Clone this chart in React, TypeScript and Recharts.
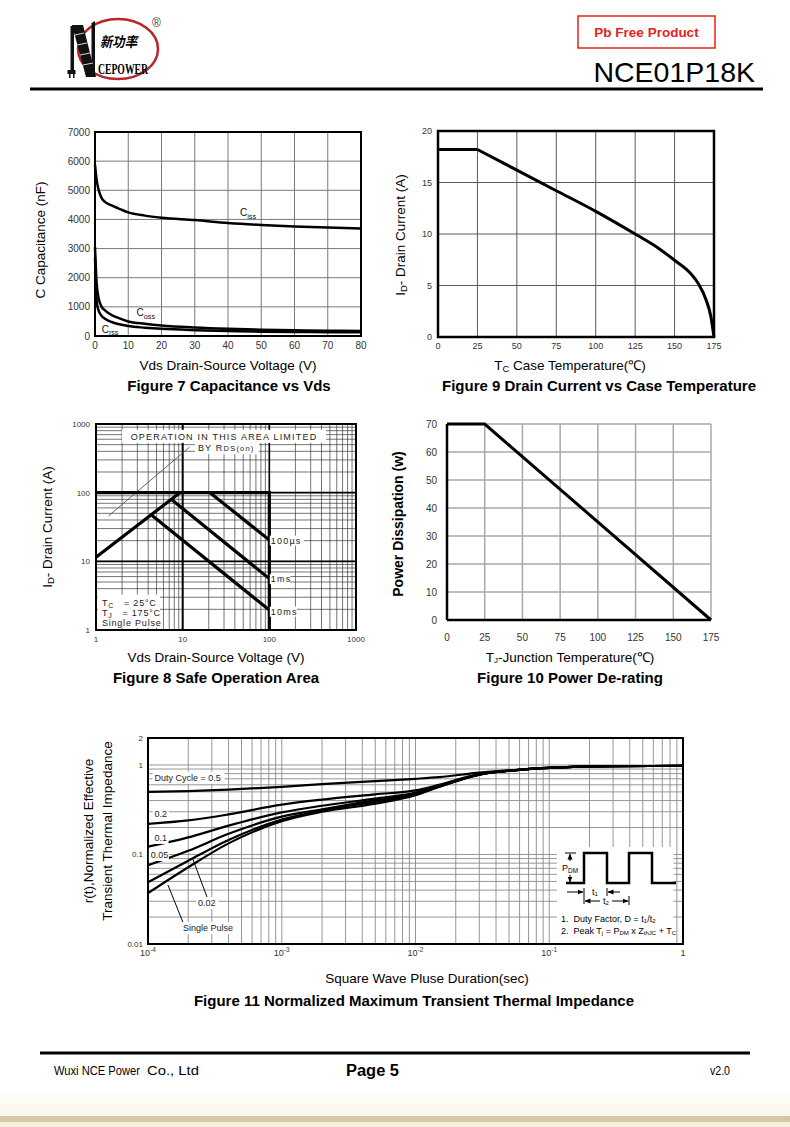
import React from 'react';
import { LineChart, Line, XAxis, YAxis, CartesianGrid, ReferenceLine, ReferenceDot, ReferenceArea } from 'recharts';

const FONT = '"Liberation Sans", Arial, Helvetica, sans-serif';

// ---------- Figure 7: Capacitance vs Vds ----------
const capVds = [0, 0.5, 1, 2, 3, 5, 7, 10, 15, 20, 30, 40, 50, 60, 70, 80];
const ciss = [5880, 5350, 5050, 4730, 4600, 4480, 4380, 4240, 4130, 4060, 3980, 3880, 3810, 3760, 3720, 3690];
const coss = [3050, 1800, 1350, 1000, 880, 720, 620, 500, 420, 360, 290, 245, 215, 195, 180, 172];
const crss = [2700, 1200, 900, 690, 590, 480, 410, 340, 285, 245, 200, 172, 150, 140, 132, 126];
const capTicksX = [0, 10, 20, 30, 40, 50, 60, 70, 80];
const capTicksY = [0, 1000, 2000, 3000, 4000, 5000, 6000, 7000];

// ---------- Figure 9: Drain current vs case temperature ----------
const flatTemp = [0, 25];
const flatCurrent = [18.2, 18.2];
const derateTemp = [25, 50, 75, 100, 125, 140, 150, 160, 165, 170, 173, 175];
const derateCurrent = [18.2, 16.2, 14.2, 12.2, 10.0, 8.6, 7.45, 6.2, 5.2, 3.6, 2.0, 0];
const caseTicksX = [0, 25, 50, 75, 100, 125, 150, 175];
const caseTicksY = [0, 5, 10, 15, 20];

// ---------- Figure 8: Safe operation area ----------
const soaRdsV = [1, 9.3];
const soaRdsI = [11.5, 100];
const soaDcV = [1, 100, 100];
const soaDcI = [100, 100, 1];
const soa100usV = [20.7, 100];
const soa100usI = [100, 20.4];
const soa1msV = [7.3, 100];
const soa1msI = [81, 5.6];
const soa10msV = [4.4, 100];
const soa10msI = [47, 1.95];
const soaPointerV = [1.4, 12];
const soaPointerI = [46, 460];
const soaDecades = [1, 10, 100];
const logMultiples = [1, 2, 3, 4, 5, 6, 7, 8, 9];
const soaTickLabels = ['1', '10', '100', '1000'];

// ---------- Figure 10: Power de-rating ----------
const juncTemp = [0, 25, 175];
const powerDiss = [70, 70, 0];
const juncTicksX = [0, 25, 50, 75, 100, 125, 150, 175];
const juncTicksY = [0, 10, 20, 30, 40, 50, 60, 70];

// ---------- Figure 11: Transient thermal impedance ----------
const pulseDur = [1e-4, 2e-4, 4e-4, 1e-3, 2e-3, 5e-3, 1e-2, 1.5e-2, 3e-2, 6e-2, 0.15, 0.3, 1];
const zDuty05 = [0.50, 0.51, 0.53, 0.57, 0.61, 0.66, 0.70, 0.73, 0.82, 0.89, 0.95, 0.97, 0.975];
const zDuty02 = [0.22, 0.24, 0.28, 0.36, 0.41, 0.47, 0.52, 0.60, 0.79, 0.88, 0.95, 0.97, 0.975];
const zDuty01 = [0.122, 0.155, 0.21, 0.295, 0.35, 0.42, 0.49, 0.59, 0.78, 0.88, 0.95, 0.97, 0.975];
const zDuty005 = [0.076, 0.11, 0.17, 0.265, 0.32, 0.405, 0.48, 0.58, 0.78, 0.88, 0.95, 0.97, 0.975];
const zDuty002 = [0.049, 0.085, 0.145, 0.245, 0.31, 0.39, 0.47, 0.57, 0.78, 0.88, 0.95, 0.97, 0.975];
const zSingle = [0.037, 0.072, 0.133, 0.235, 0.30, 0.37, 0.46, 0.57, 0.78, 0.88, 0.95, 0.97, 0.975];
const thermalDecadesX = [1e-4, 1e-3, 1e-2, 1e-1];
const thermalDecadesY = [0.01, 0.1];
const thermalXLabels = [
  { v: 1e-4, base: '10', exp: '-4' },
  { v: 1e-3, base: '10', exp: '-3' },
  { v: 1e-2, base: '10', exp: '-2' },
  { v: 1e-1, base: '10', exp: '-1' },
  { v: 1, base: '1', exp: '' },
];
const thermalYLabels = [
  { v: 0.01, t: '0.01' },
  { v: 0.1, t: '0.1' },
  { v: 1, t: '1' },
  { v: 2, t: '2' },
];
const ptr002T = [2.76e-4, 2.15e-4];
const ptr002Z = [0.0335, 0.0914];
const ptrSingleT = [1.86e-4, 1.41e-4];
const ptrSingleZ = [0.0163, 0.0456];

// ---------- helpers ----------
const rows = (xs: number[], ys: number[]) => xs.map((x, i) => ({ x, y: ys[i] }));
const capData = capVds.map((v, i) => ({ v, ciss: ciss[i], coss: coss[i], crss: crss[i] }));
const juncData = rows(juncTemp, powerDiss);
const thermalData = pulseDur.map((t, i) => ({
  t, d05: zDuty05[i], d02: zDuty02[i], d01: zDuty01[i], d005: zDuty005[i], d002: zDuty002[i], single: zSingle[i],
}));
const soaTicks = [...soaDecades.flatMap((d) => logMultiples.map((m) => d * m)), 1000];
const thermalTicksX = [...thermalDecadesX.flatMap((d) => logMultiples.map((m) => d * m)), 1];
const thermalTicksY = [...thermalDecadesY.flatMap((d) => logMultiples.map((m) => d * m)), 1, 2];
const near = (a: number, b: number) => Math.abs(a - b) < Math.abs(b) * 1e-6;

const ML = 50, MT = 6, MR = 26, MB = 30;
const tick = (size: number) => ({ fontSize: size, fill: '#333', fontFamily: FONT });

type Plot = { L: number; T: number; R: number; B: number };
const dims = (p: Plot) => ({ w: p.R - p.L + ML + MR, h: p.B - p.T + MT + MB });
const boxStyle = (p: Plot): React.CSSProperties => ({ position: 'absolute', left: p.L - ML, top: p.T - MT });
const margin = { top: MT, right: MR, left: 0, bottom: 0 };

const Sub = ({ x, y, main, sub, size, rest }: any) => (
  <text x={x} y={y} fontSize={size} fontFamily={FONT} fill="#111" dominantBaseline="central">
    {main}
    <tspan fontSize={size * 0.72} dy={size * 0.3}>{sub}</tspan>
    {rest ? <tspan dy={-size * 0.3}>{rest}</tspan> : null}
  </text>
);

// ---------- Figure 7 ----------
const P7: Plot = { L: 95, T: 132, R: 361, B: 336 };
function Fig7() {
  const { w, h } = dims(P7);
  return (
    <div style={boxStyle(P7)}>
      <LineChart width={w} height={h} data={capData} margin={margin}>
        <CartesianGrid stroke="#7a7a7a" strokeWidth={1} />
        <XAxis dataKey="v" type="number" domain={[0, 80]} ticks={capTicksX} interval={0} tickLine={false} axisLine={false} tickSize={0} tickMargin={6} height={MB} tick={tick(10)} />
        <YAxis type="number" domain={[0, 7000]} ticks={capTicksY} interval={0} tickLine={false} axisLine={false} tickSize={0} tickMargin={5} width={ML} tick={tick(10)} />
        <ReferenceArea x1={0} x2={80} y1={0} y2={7000} fill="none" stroke="#000" strokeWidth={2} />
        <Line dataKey="ciss" type="monotone" stroke="#000" strokeWidth={2.5} dot={false} isAnimationActive={false} />
        <Line dataKey="coss" type="monotone" stroke="#000" strokeWidth={2.5} dot={false} isAnimationActive={false} />
        <Line dataKey="crss" type="monotone" stroke="#000" strokeWidth={2.5} dot={false} isAnimationActive={false} />
        <ReferenceDot x={43.6} y={4230} r={0} shape={(p: any) => <Sub x={p.cx} y={p.cy} main="C" sub="iss" size={10} />} />
        <ReferenceDot x={12.5} y={800} r={0} shape={(p: any) => <Sub x={p.cx} y={p.cy} main="C" sub="oss" size={10} />} />
        <ReferenceDot x={2.0} y={240} r={0} shape={(p: any) => <Sub x={p.cx} y={p.cy} main="C" sub="rss" size={10} />} />
      </LineChart>
    </div>
  );
}

// ---------- Figure 9 ----------
const P9: Plot = { L: 438, T: 131, R: 714, B: 337 };
function Fig9() {
  const { w, h } = dims(P9);
  return (
    <div style={boxStyle(P9)}>
      <LineChart width={w} height={h} margin={margin}>
        <CartesianGrid stroke="#5a5a5a" strokeWidth={1} />
        <XAxis dataKey="x" type="number" domain={[0, 175]} ticks={caseTicksX} interval={0} tickLine={false} axisLine={false} tickSize={0} tickMargin={6} height={MB} tick={tick(9)} />
        <YAxis dataKey="y" type="number" domain={[0, 20]} ticks={caseTicksY} interval={0} tickLine={false} axisLine={false} tickSize={0} tickMargin={6} width={ML} tick={tick(9)} />
        <ReferenceArea x1={0} x2={175} y1={0} y2={20} fill="none" stroke="#000" strokeWidth={2.5} />
        <Line data={rows(flatTemp, flatCurrent)} dataKey="y" type="linear" stroke="#000" strokeWidth={3} dot={false} isAnimationActive={false} />
        <Line data={rows(derateTemp, derateCurrent)} dataKey="y" type="monotone" stroke="#000" strokeWidth={3} dot={false} isAnimationActive={false} />
      </LineChart>
    </div>
  );
}

// ---------- Figure 8 ----------
const P8: Plot = { L: 96, T: 424, R: 356, B: 630 };
function Fig8() {
  const { w, h } = dims(P8);
  const fmt = (v: number) => {
    const i = [1, 10, 100, 1000].findIndex((d) => near(v, d));
    return i >= 0 ? soaTickLabels[i] : '';
  };
  const series = [
    rows(soaRdsV, soaRdsI),
    rows(soaDcV, soaDcI),
    rows(soa100usV, soa100usI),
    rows(soa1msV, soa1msI),
    rows(soa10msV, soa10msI),
  ];
  const lbl = { fontSize: 9, fontFamily: FONT, fill: '#222', letterSpacing: 1.2 } as any;
  return (
    <div style={boxStyle(P8)}>
      <LineChart width={w} height={h} margin={margin}>
        <CartesianGrid stroke="#3a3a3a" strokeWidth={0.7} />
        <XAxis dataKey="x" type="number" scale="log" domain={[1, 1000]} ticks={soaTicks} interval={0} tickFormatter={fmt} tickLine={false} axisLine={false} tickSize={0} tickMargin={6} height={MB} tick={tick(8)} allowDataOverflow />
        <YAxis dataKey="y" type="number" scale="log" domain={[1, 1000]} ticks={soaTicks} interval={0} tickFormatter={fmt} tickLine={false} axisLine={false} tickSize={0} tickMargin={6} width={ML} tick={tick(8)} allowDataOverflow />
        <ReferenceLine x={10} stroke="#000" strokeWidth={2} />
        <ReferenceLine x={100} stroke="#000" strokeWidth={1.6} />
        <ReferenceLine y={10} stroke="#000" strokeWidth={1.6} />
        <ReferenceLine y={100} stroke="#000" strokeWidth={1.6} />
        <ReferenceArea x1={1} x2={1000} y1={1} y2={1000} fill="none" stroke="#000" strokeWidth={2} />
        <ReferenceDot x={30} y={650} r={0} shape={(p: any) => (
          <g>
            <rect x={p.cx - 102} y={p.cy - 7} width={204} height={13} fill="#fff" />
            <text x={p.cx} y={p.cy} textAnchor="middle" dominantBaseline="central" {...lbl}>OPERATION IN THIS AREA LIMITED</text>
          </g>
        )} />
        <ReferenceDot x={15} y={445} r={0} shape={(p: any) => (
          <g>
            <rect x={p.cx - 3} y={p.cy - 5} width={64} height={11} fill="#fff" />
            <text x={p.cx} y={p.cy} dominantBaseline="central" {...lbl}>BY R<tspan fontSize={7.5}>DS(on)</tspan></text>
          </g>
        )} />
        <Line data={rows(soaPointerV, soaPointerI)} dataKey="y" type="linear" stroke="#555" strokeWidth={0.9} dot={false} isAnimationActive={false} />
        {series.map((d, i) => (
          <Line key={i} data={d} dataKey="y" type="linear" stroke="#000" strokeWidth={3.2} dot={false} isAnimationActive={false} />
        ))}
        {[{ y: 20, t: '100µs' }, { y: 5.5, t: '1ms' }, { y: 1.85, t: '10ms' }].map((l) => (
          <ReferenceDot key={l.t} x={104} y={l.y} r={0} shape={(p: any) => (
            <g>
              <rect x={p.cx - 1} y={p.cy - 5} width={l.t.length * 6.8} height={10} fill="#fff" />
              <text x={p.cx} y={p.cy} dominantBaseline="central" {...lbl}>{l.t}</text>
            </g>
          )} />
        ))}
        <ReferenceDot x={1.17} y={2.5} r={0} shape={(p: any) => (
          <g>
            <rect x={p.cx - 4} y={p.cy - 8} width={62} height={33} fill="#fff" />
            <text x={p.cx} y={p.cy} dominantBaseline="central" {...lbl} letterSpacing={0.8} style={{ whiteSpace: 'pre' }}>T<tspan fontSize={7} dy={2}>C</tspan><tspan dy={-2}>   = 25°C</tspan></text>
            <text x={p.cx} y={p.cy + 10} dominantBaseline="central" {...lbl} letterSpacing={0.8} style={{ whiteSpace: 'pre' }}>T<tspan fontSize={7} dy={2}>J</tspan><tspan dy={-2}>   = 175°C</tspan></text>
            <text x={p.cx} y={p.cy + 20} dominantBaseline="central" {...lbl} letterSpacing={0.8}>Single Pulse</text>
          </g>
        )} />
      </LineChart>
    </div>
  );
}

// ---------- Figure 10 ----------
const P10: Plot = { L: 447, T: 424, R: 711, B: 620 };
function Fig10() {
  const { w, h } = dims(P10);
  return (
    <div style={boxStyle(P10)}>
      <LineChart width={w} height={h} data={juncData} margin={margin}>
        <CartesianGrid stroke="#a8a8a8" strokeWidth={1.5} />
        <XAxis dataKey="x" type="number" domain={[0, 175]} ticks={juncTicksX} interval={0} tickLine={false} axisLine={{ stroke: '#000', strokeWidth: 2.5 }} tickSize={0} tickMargin={14} height={MB} tick={tick(10)} />
        <YAxis type="number" domain={[0, 70]} ticks={juncTicksY} interval={0} tickLine={false} axisLine={{ stroke: '#000', strokeWidth: 2.5 }} tickSize={0} tickMargin={10} width={ML} tick={tick(10)} />
        <Line dataKey="y" type="linear" stroke="#000" strokeWidth={3} dot={false} isAnimationActive={false} />
      </LineChart>
    </div>
  );
}

// ---------- Figure 11 ----------
const P11: Plot = { L: 148, T: 738, R: 683, B: 944 };
const PowTick = (props: any) => {
  const { x, y, payload } = props;
  const lab = thermalXLabels.find((l) => near(payload.value, l.v));
  if (!lab) return <g />;
  return (
    <text x={x} y={y + 8} textAnchor="middle" fontSize={9} fill="#333" fontFamily={FONT}>
      {lab.base}
      {lab.exp ? <tspan fontSize={6.5} dy={-4}>{lab.exp}</tspan> : null}
    </text>
  );
};
function Fig11() {
  const { w, h } = dims(P11);
  const yFmt = (v: number) => {
    const l = thermalYLabels.find((q) => near(v, q.v));
    return l ? l.t : '';
  };
  const keys = ['d05', 'd02', 'd01', 'd005', 'd002', 'single'];
  const lab = (t: string, width: number) => (p: any) => (
    <g>
      <rect x={p.cx - 2} y={p.cy - 6} width={width} height={12} fill="#fff" />
      <text x={p.cx} y={p.cy} dominantBaseline="central" fontSize={9} fontFamily={FONT} fill="#222">{t}</text>
    </g>
  );
  return (
    <div style={boxStyle(P11)}>
      <LineChart width={w} height={h} data={thermalData} margin={margin}>
        <CartesianGrid stroke="#8a8a8a" strokeWidth={0.9} />
        <XAxis dataKey="t" type="number" scale="log" domain={[1e-4, 1]} ticks={thermalTicksX} interval={0} tickLine={false} axisLine={false} tickSize={0} tickMargin={4} height={MB} tick={<PowTick />} allowDataOverflow />
        <YAxis type="number" scale="log" domain={[0.01, 2]} ticks={thermalTicksY} interval={0} tickFormatter={yFmt} tickLine={false} axisLine={false} tickSize={0} tickMargin={5} width={ML} tick={tick(8)} allowDataOverflow />
        <ReferenceArea x1={0.114} x2={0.85} y1={0.0103} y2={0.121} fill="#fff" fillOpacity={1} stroke="none" />
        <ReferenceArea x1={1e-4} x2={1} y1={0.01} y2={2} fill="none" stroke="#000" strokeWidth={2} />
        {keys.map((k) => (
          <Line key={k} dataKey={k} type="monotone" stroke="#000" strokeWidth={2.2} dot={false} isAnimationActive={false} />
        ))}
        <ReferenceDot x={1.12e-4} y={0.72} r={0} shape={lab('Duty Cycle = 0.5', 72)} />
        <ReferenceDot x={1.12e-4} y={0.284} r={0} shape={lab('0.2', 16)} />
        <ReferenceDot x={1.12e-4} y={0.153} r={0} shape={lab('0.1', 16)} />
        <ReferenceDot x={1.05e-4} y={0.0987} r={0} shape={lab('0.05', 20)} />
        <ReferenceDot x={2.37e-4} y={0.0287} r={0} shape={lab('0.02', 22)} />
        <ReferenceDot x={1.83e-4} y={0.0151} r={0} shape={lab('Single Pulse', 54)} />
        <ReferenceLine segment={[{ x: ptr002T[0], y: ptr002Z[0] }, { x: ptr002T[1], y: ptr002Z[1] }]} stroke="#000" strokeWidth={1} />
        <ReferenceLine segment={[{ x: ptrSingleT[0], y: ptrSingleZ[0] }, { x: ptrSingleT[1], y: ptrSingleZ[1] }]} stroke="#000" strokeWidth={1} />
      </LineChart>
    </div>
  );
}

// ---------- page decorations ----------
const PT = ({ x, y, size = 13.5, bold = false, rot = false, children, anchor = 'middle', fill = '#000' }: any) => (
  <text x={x} y={y} fontSize={size} fontWeight={bold ? 'bold' : 'normal'} fontFamily={FONT} textAnchor={anchor} dominantBaseline="central" fill={fill}
    transform={rot ? `rotate(-90 ${x} ${y})` : undefined}>
    {children}
  </text>
);

function PageOverlay() {
  return (
    <svg width={790} height={1127} style={{ position: 'absolute', left: 0, top: 0, pointerEvents: 'none' }}>
      <defs>
        <marker id="ah" markerWidth="6" markerHeight="6" refX="5.5" refY="3" orient="auto" markerUnits="userSpaceOnUse">
          <path d="M0,0.5 L6,3 L0,5.5 z" fill="#000" />
        </marker>
        <linearGradient id="cream" x1="0" y1="0" x2="0" y2="1">
          <stop offset="0" stopColor="#ffffff" />
          <stop offset="1" stopColor="#fbf6ea" />
        </linearGradient>
      </defs>

      {/* header logo */}
      <ellipse cx={118} cy={49} rx={40} ry={30} fill="none" stroke="#b8262c" strokeWidth={2.5} />
      <g fill="#111">
        <rect x={70.5} y={26} width={3.5} height={45} />
        <rect x={67.5} y={70} width={8} height={4} />
        <rect x={69} y={74} width={1.5} height={4} />
        <rect x={73} y={74} width={1.5} height={4} />
        <polygon points="72,25 83,25 96,77 86,77" />
        <polygon points="91.5,23 95,21 95,77 91.5,77" />
      </g>
      <g stroke="#fff" strokeWidth={0.8}>
        <line x1={75} y1={35} x2={84} y2={33} />
        <line x1={77} y1={45} x2={87} y2={43} />
        <line x1={80} y1={55} x2={90} y2={53} />
        <line x1={83} y1={65} x2={93} y2={63} />
      </g>
      <text x={100} y={47} fontSize={14} fontFamily='"Noto Sans CJK SC", sans-serif' fontWeight="bold" fontStyle="italic" textLength={37} lengthAdjust="spacingAndGlyphs">新功率</text>
      <text x={98} y={74} fontSize={15} fontFamily='"Liberation Serif", serif' fontWeight="bold" textLength={50} lengthAdjust="spacingAndGlyphs">CEPOWER</text>
      <text x={152} y={27} fontSize={12} fontFamily={FONT} fill="#444">®</text>
      <rect x={578} y={16} width={137} height={32} fill="#fff" stroke="#e3231f" strokeWidth={1.5} />
      <PT x={646.5} y={32} size={13.5} bold fill="#e3231f">Pb Free Product</PT>
      <text x={755} y={82} fontSize={28.5} fontFamily={FONT} textAnchor="end">NCE01P18K</text>
      <line x1={30} y1={89} x2={763} y2={89} stroke="#000" strokeWidth={3} />

      {/* figure 7 */}
      <PT x={40} y={240} rot>C Capacitance (nF)</PT>
      <PT x={228} y={365}>Vds Drain-Source Voltage (V)</PT>
      <PT x={229} y={385} size={15} bold>Figure 7 Capacitance vs Vds</PT>

      {/* figure 9 */}
      <PT x={400} y={235} rot>I<tspan fontSize={9.5} dy={3}>D</tspan><tspan dy={-3}>- Drain Current (A)</tspan></PT>
      <PT x={570} y={365}>T<tspan fontSize={9.5} dy={3}>C</tspan><tspan dy={-3}> Case Temperature(℃)</tspan></PT>
      <PT x={599} y={385} size={15} bold>Figure 9 Drain Current vs Case Temperature</PT>

      {/* figure 8 */}
      <PT x={47} y={527} rot>I<tspan fontSize={9.5} dy={3}>D</tspan><tspan dy={-3}>- Drain Current (A)</tspan></PT>
      <PT x={216} y={657}>Vds Drain-Source Voltage (V)</PT>
      <PT x={216} y={677} size={15} bold>Figure 8 Safe Operation Area</PT>

      {/* figure 10 */}
      <PT x={398} y={524} rot bold size={14}>Power Dissipation (w)</PT>
      <PT x={570} y={657}>T<tspan fontSize={8} dy={3}>J</tspan><tspan dy={-3}>-Junction Temperature(℃)</tspan></PT>
      <PT x={570} y={677} size={15} bold>Figure 10 Power De-rating</PT>

      {/* figure 11 */}
      <PT x={88} y={831} rot>r(t),Normalized Effective</PT>
      <PT x={107} y={831} rot>Transient Thermal Impedance</PT>
      <PT x={427} y={978}>Square Wave Pluse Duration(sec)</PT>
      <PT x={414} y={1000} size={15} bold>Figure 11 Normalized Maximum Transient Thermal Impedance</PT>

      {/* figure 11 inset: pulse diagram */}
      <polyline points="566,883 584,883 584,853 607,853 607,883 629,883 629,853 652,853 652,883 676,883" fill="none" stroke="#000" strokeWidth={2.5} />
      <line x1={565} y1={853} x2={576} y2={853} stroke="#000" strokeWidth={1} />
      <line x1={570} y1={861} x2={570} y2={854} stroke="#000" strokeWidth={1} markerEnd="url(#ah)" />
      <line x1={570} y1={875} x2={570} y2={882} stroke="#000" strokeWidth={1} markerEnd="url(#ah)" />
      <text x={562} y={868} fontSize={9} fontFamily={FONT} dominantBaseline="central">P<tspan fontSize={6.5} dy={2}>DM</tspan></text>
      <line x1={584} y1={888} x2={584} y2={904} stroke="#000" strokeWidth={1} />
      <line x1={607} y1={888} x2={607} y2={896} stroke="#000" strokeWidth={1} />
      <line x1={629} y1={896} x2={629} y2={905} stroke="#000" strokeWidth={1} />
      <line x1={567} y1={892} x2={583} y2={892} stroke="#000" strokeWidth={1} markerEnd="url(#ah)" />
      <line x1={620} y1={892} x2={608} y2={892} stroke="#000" strokeWidth={1} markerEnd="url(#ah)" />
      <text x={592} y={892} fontSize={9} fontFamily={FONT} dominantBaseline="central">t<tspan fontSize={6} dy={2}>1</tspan></text>
      <line x1={600} y1={901} x2={585} y2={901} stroke="#000" strokeWidth={1} markerEnd="url(#ah)" />
      <line x1={612} y1={901} x2={628} y2={901} stroke="#000" strokeWidth={1} markerEnd="url(#ah)" />
      <text x={603} y={901} fontSize={9} fontFamily={FONT} dominantBaseline="central">t<tspan fontSize={6} dy={2}>2</tspan></text>
      <text x={561} y={919} fontSize={9} fontFamily={FONT} dominantBaseline="central" style={{ whiteSpace: 'pre' }}>1.  Duty Factor, D = t<tspan fontSize={6} dy={2}>1</tspan><tspan dy={-2}>/t</tspan><tspan fontSize={6} dy={2}>2</tspan></text>
      <text x={561} y={931} fontSize={9} fontFamily={FONT} dominantBaseline="central" style={{ whiteSpace: 'pre' }}>2.  Peak T<tspan fontSize={6} dy={2}>j</tspan><tspan dy={-2}> = P</tspan><tspan fontSize={6} dy={2}>DM</tspan><tspan dy={-2}> x Z</tspan><tspan fontSize={6} dy={2}>thJC</tspan><tspan dy={-2}> + T</tspan><tspan fontSize={6} dy={2}>C</tspan></text>

      {/* footer */}
      <line x1={40} y1={1053} x2={750} y2={1053} stroke="#000" strokeWidth={3} />
      <text x={54} y={1071} fontSize={12} fontFamily={FONT} dominantBaseline="central" textLength={86} lengthAdjust="spacingAndGlyphs">Wuxi NCE Power</text>
      <text x={147} y={1071} fontSize={12} fontFamily={FONT} dominantBaseline="central" textLength={52} lengthAdjust="spacingAndGlyphs">Co., Ltd</text>
      <text x={346} y={1070} fontSize={16} fontWeight="bold" fontFamily={FONT} dominantBaseline="central" textLength={53} lengthAdjust="spacingAndGlyphs">Page 5</text>
      <text x={710} y={1071} fontSize={12} fontFamily={FONT} dominantBaseline="central" textLength={20} lengthAdjust="spacingAndGlyphs">v2.0</text>
      <rect x={0} y={1088} width={790} height={28} fill="url(#cream)" />
      <rect x={0} y={1116} width={790} height={6} fill="#d7c6a3" />
      <rect x={0} y={1122} width={790} height={5} fill="#f6efe0" />
    </svg>
  );
}

export default function App() {
  return (
    <div style={{ position: 'absolute', left: 0, top: 0, width: 790, height: 1127, background: '#fff', overflow: 'hidden', fontFamily: FONT }}>
      <Fig7 />
      <Fig9 />
      <Fig8 />
      <Fig10 />
      <Fig11 />
      <PageOverlay />
    </div>
  );
}
